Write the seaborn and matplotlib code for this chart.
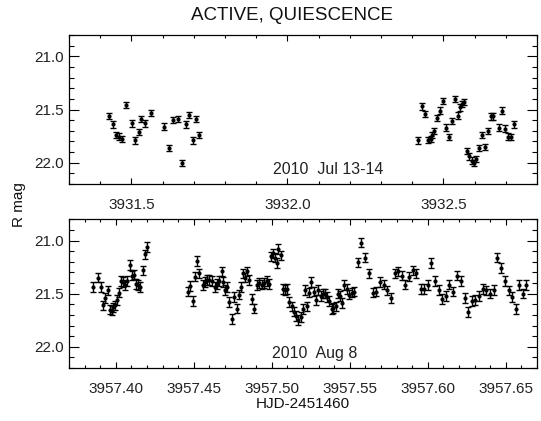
"""Two-night R-band light curve (active / quiescence), IDL-style panels."""
import matplotlib
matplotlib.use('Agg')
import matplotlib.pyplot as plt
from matplotlib.ticker import MultipleLocator, FormatStrFormatter
import pandas as pd
import seaborn as sns

# --- 2010 Jul 13-14 (HJD-2451460) ---
top_day = [3931.427, 3931.440, 3931.452, 3931.460, 3931.471, 3931.483, 3931.502,
           3931.512, 3931.523, 3931.532, 3931.542, 3931.564, 3931.604, 3931.619,
           3931.633, 3931.648, 3931.662, 3931.674, 3931.685, 3931.696, 3931.706,
           3931.718,
           3932.419, 3932.432, 3932.441, 3932.450, 3932.459, 3932.465, 3932.470,
           3932.480, 3932.488, 3932.498, 3932.507, 3932.517, 3932.527, 3932.536,
           3932.546, 3932.554, 3932.559, 3932.565, 3932.575, 3932.583, 3932.591,
           3932.598, 3932.603, 3932.613, 3932.623, 3932.632, 3932.642, 3932.651,
           3932.660, 3932.678, 3932.688, 3932.697, 3932.706, 3932.717, 3932.726]
top_mag = [21.56, 21.64, 21.74, 21.755, 21.78, 21.46, 21.63,
           21.79, 21.71, 21.59, 21.63, 21.535, 21.66, 21.86,
           21.60, 21.59, 22.00, 21.64, 21.55, 21.79, 21.59,
           21.74,
           21.79, 21.47, 21.54, 21.786, 21.78, 21.74, 21.70,
           21.58, 21.51, 21.42, 21.67, 21.76, 21.61, 21.40,
           21.557, 21.48, 21.45, 21.43, 21.89, 21.94, 21.98,
           22.00, 21.965, 21.86, 21.74, 21.855, 21.70, 21.565,
           21.565, 21.67, 21.51, 21.68, 21.755, 21.76, 21.64]
top_err = 0.03

# --- 2010 Aug 8 ---
bot_day = [3957.3856, 3957.3884, 3957.3903, 3957.3916, 3957.3933, 3957.3948, 3957.3963,
           3957.3974, 3957.3984, 3957.3995, 3957.4006, 3957.4019, 3957.4031, 3957.4048,
           3957.4059, 3957.4074, 3957.4089, 3957.4104, 3957.4115, 3957.4129, 3957.4142,
           3957.4155, 3957.4172, 3957.4187, 3957.4202,
           3957.4465, 3957.4476, 3957.4493, 3957.4508, 3957.4519, 3957.4535, 3957.4557,
           3957.4572, 3957.4587, 3957.4599, 3957.4615, 3957.4636, 3957.4647, 3957.4663,
           3957.4679, 3957.4689, 3957.4700, 3957.4715, 3957.4728, 3957.4743, 3957.4758,
           3957.4775, 3957.4792, 3957.4801, 3957.4813, 3957.4828, 3957.4843, 3957.4856,
           3957.4871, 3957.4886, 3957.4903, 3957.4920, 3957.4935, 3957.4950, 3957.4967,
           3957.4984, 3957.4993, 3957.5006, 3957.5021, 3957.5031, 3957.5042, 3957.5057,
           3957.5070, 3957.5085, 3957.5095, 3957.5112, 3957.5128, 3957.5142, 3957.5155,
           3957.5170, 3957.5185, 3957.5198, 3957.5213, 3957.5223, 3957.5238, 3957.5253,
           3957.5271, 3957.5283, 3957.5298, 3957.5313, 3957.5330, 3957.5343, 3957.5356,
           3957.5369, 3957.5384, 3957.5394, 3957.5410, 3957.5422, 3957.5437, 3957.5452,
           3957.5465, 3957.5480, 3957.5497, 3957.5512, 3957.5527, 3957.5553, 3957.5574,
           3957.5600, 3957.5623, 3957.5649, 3957.5668, 3957.5694, 3957.5717, 3957.5740,
           3957.5764, 3957.5790, 3957.5809, 3957.5835, 3957.5856, 3957.5881, 3957.5905,
           3957.5926, 3957.5954, 3957.5976, 3957.5999, 3957.6022, 3957.6046, 3957.6070,
           3957.6093, 3957.6117, 3957.6138, 3957.6162, 3957.6185, 3957.6211, 3957.6237,
           3957.6258, 3957.6281, 3957.6305, 3957.6328, 3957.6352, 3957.6375, 3957.6399,
           3957.6424, 3957.6446, 3957.6469, 3957.6493, 3957.6519, 3957.6540, 3957.6565,
           3957.6587, 3957.6608, 3957.6630]
bot_mag = [21.44, 21.35, 21.44, 21.61, 21.54, 21.47, 21.65,
           21.66, 21.63, 21.61, 21.56, 21.49, 21.38, 21.39,
           21.42, 21.38, 21.23, 21.33, 21.32, 21.41, 21.42,
           21.44, 21.28, 21.13, 21.06,
           21.48, 21.43, 21.57, 21.34, 21.195, 21.31, 21.42,
           21.39, 21.37, 21.37, 21.38, 21.44, 21.41, 21.38,
           21.29, 21.39, 21.465, 21.44, 21.58, 21.74, 21.53,
           21.64, 21.51, 21.44, 21.31, 21.35, 21.29, 21.37,
           21.55, 21.64, 21.42, 21.40, 21.415, 21.40, 21.38,
           21.41, 21.15, 21.12, 21.16, 21.21, 21.08, 21.14,
           21.455, 21.465, 21.455, 21.58, 21.62, 21.67, 21.71,
           21.75, 21.72, 21.645, 21.465, 21.62, 21.49, 21.39,
           21.48, 21.56, 21.465, 21.52, 21.50, 21.50, 21.53,
           21.57, 21.645, 21.635, 21.62, 21.50, 21.52, 21.59,
           21.42, 21.455, 21.51, 21.49, 21.48, 21.205, 21.02,
           21.16, 21.31, 21.49, 21.48, 21.39, 21.415, 21.47,
           21.54, 21.31, 21.29, 21.33, 21.415, 21.34, 21.28,
           21.31, 21.455, 21.455, 21.42, 21.21, 21.38, 21.465,
           21.55, 21.52, 21.415, 21.48, 21.33, 21.38, 21.54,
           21.675, 21.57, 21.56, 21.52, 21.455, 21.47, 21.50,
           21.465, 21.16, 21.26, 21.38, 21.47, 21.53, 21.645,
           21.42, 21.50, 21.42]
bot_err = 0.045

night_labels = ['2010  Jul 13-14', '2010  Aug 8']

sns.set_theme(style='ticks')
plt.rcParams['font.family'] = ['Liberation Sans', 'DejaVu Sans']

fig = plt.figure(figsize=(5.41, 4.21), dpi=100)
ax_top = fig.add_axes([69 / 541, 1 - 184 / 421, 468 / 541, 149 / 421])
ax_bot = fig.add_axes([69 / 541, 1 - 368 / 421, 468 / 541, 148.7 / 421])

panels = [
    (ax_top, top_day, top_mag, top_err, (3931.3, 3932.8), 0.5, 0.1, '%.1f',
     (3931.955, 22.06), night_labels[0]),
    (ax_bot, bot_day, bot_mag, bot_err, (3957.37, 3957.67), 0.05, 0.01, '%.2f',
     (3957.500, 22.06), night_labels[1]),
]

for ax, day, mag, err, xlim, xmaj, xmin, fmt, txt_xy, txt in panels:
    df = pd.DataFrame({'day': day, 'mag': mag})
    ax.errorbar(df['day'], df['mag'], yerr=err, fmt='none', ecolor='black',
                elinewidth=1.0, capsize=1.9, capthick=1.0, zorder=2)
    sns.scatterplot(data=df, x='day', y='mag', ax=ax, color='black', s=9,
                    linewidth=0, zorder=3, legend=False)
    ax.set_xlim(*xlim)
    ax.set_ylim(22.2, 20.8)
    ax.xaxis.set_major_locator(MultipleLocator(xmaj))
    ax.xaxis.set_minor_locator(MultipleLocator(xmin))
    ax.xaxis.set_major_formatter(FormatStrFormatter(fmt))
    ax.yaxis.set_major_locator(MultipleLocator(0.5))
    ax.yaxis.set_minor_locator(MultipleLocator(0.1))
    ax.yaxis.set_major_formatter(FormatStrFormatter('%.1f'))
    ax.tick_params(axis='both', which='both', direction='in', top=True, right=True,
                   color='black', width=0.8, labelsize=11, labelcolor='#222222')
    ax.tick_params(axis='x', which='major', length=4, pad=10)
    ax.tick_params(axis='x', which='minor', length=2.5)
    ax.tick_params(axis='y', which='major', length=7, pad=4)
    ax.tick_params(axis='y', which='minor', length=3.6)
    for sp in ax.spines.values():
        sp.set_linewidth(0.9)
        sp.set_color('black')
    ax.set_xlabel('')
    ax.set_ylabel('')
    ax.text(txt_xy[0], txt_xy[1], txt, fontsize=11.5, color='#222222',
            ha='left', va='center')

ax_bot.set_xlabel('HJD-2451460', fontsize=11, color='#111111', labelpad=0.5)
fig.text(292 / 541, 1 - 15 / 421, 'ACTIVE, QUIESCENCE', fontsize=13.5,
         ha='center', va='center', color='#111111')
fig.text(19 / 541, 1 - 205 / 421, 'R mag', fontsize=11, rotation=90,
         ha='center', va='center', color='#111111')

fig.savefig('out.png', dpi=100)
